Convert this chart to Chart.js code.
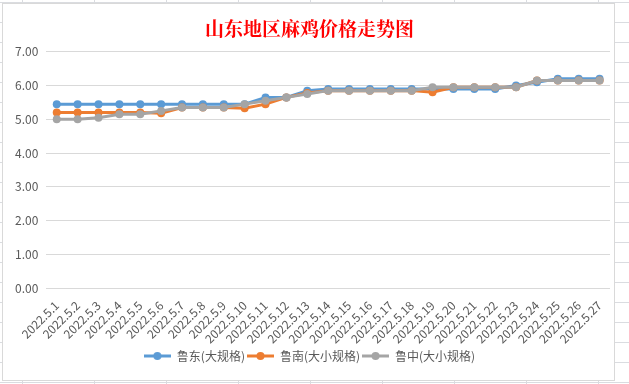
<!DOCTYPE html>
<html>
<head>
<meta charset="utf-8">
<script src="https://cdn.jsdelivr.net/npm/chart.js@4"></script>
<style>
    html, body { margin: 0; padding: 0; }
    body {
        width: 629px; height: 384px; overflow: hidden;
        background-color: #fff;
        background-image:
            linear-gradient(to right, #dadce0 1px, transparent 1px),
            linear-gradient(to bottom, #dadce0 1px, transparent 1px);
        background-size: 72px 20px;
        background-position: 22px 2px;
    }
    .chart-box {
        position: absolute; left: 2px; top: 3px;
        width: 611px; height: 376px;
        background: #fff; border: 1px solid #d9d9d9;
    }
</style>
</head>
<body>
<div class="chart-box"><canvas id="priceChart" width="611" height="376"></canvas></div>
<script>
// 日期
const labels = ['2022.5.1', '2022.5.2', '2022.5.3', '2022.5.4', '2022.5.5', '2022.5.6', '2022.5.7',
    '2022.5.8', '2022.5.9', '2022.5.10', '2022.5.11', '2022.5.12', '2022.5.13', '2022.5.14',
    '2022.5.15', '2022.5.16', '2022.5.17', '2022.5.18', '2022.5.19', '2022.5.20', '2022.5.21',
    '2022.5.22', '2022.5.23', '2022.5.24', '2022.5.25', '2022.5.26', '2022.5.27'];

// 鲁东(大规格)
const ludong = [5.45, 5.45, 5.45, 5.45, 5.45, 5.45, 5.45, 5.45, 5.45, 5.45, 5.65, 5.65, 5.85, 5.90,
    5.90, 5.90, 5.90, 5.90, 5.90, 5.90, 5.90, 5.90, 6.00, 6.10, 6.20, 6.20, 6.20];
// 鲁南(大小规格)
const lunan = [5.20, 5.20, 5.20, 5.20, 5.20, 5.18, 5.35, 5.35, 5.35, 5.33, 5.45, 5.65, 5.78, 5.85,
    5.85, 5.85, 5.85, 5.85, 5.80, 5.95, 5.95, 5.95, 5.95, 6.15, 6.15, 6.15, 6.15];
// 鲁中(大小规格)
const luzhong = [5.00, 5.00, 5.05, 5.15, 5.15, 5.25, 5.35, 5.35, 5.35, 5.45, 5.55, 5.65, 5.75, 5.85,
    5.85, 5.85, 5.85, 5.85, 5.95, 5.95, 5.95, 5.95, 5.95, 6.15, 6.15, 6.15, 6.15];

const yTicks = [0, 1, 2, 3, 4, 5, 6, 7];

const seriesColors = ['#5b9bd5', '#ed7d31', '#a5a5a5'];
const seriesNames = ['鲁东(大规格)', '鲁南(大小规格)', '鲁中(大小规格)'];

// legend marker: short line with a dot
function legendMarker(color) {
    const c = document.createElement('canvas');
    c.width = 27; c.height = 10;
    const ctx = c.getContext('2d');
    ctx.strokeStyle = color;
    ctx.lineWidth = 3;
    ctx.beginPath();
    ctx.moveTo(0, 5);
    ctx.lineTo(27, 5);
    ctx.stroke();
    ctx.fillStyle = color;
    ctx.beginPath();
    ctx.arc(13.5, 5, 4, 0, Math.PI * 2);
    ctx.fill();
    return c;
}

function makeDataset(i, data) {
    return {
        label: seriesNames[i],
        data: data,
        borderColor: seriesColors[i],
        backgroundColor: seriesColors[i],
        borderWidth: 3,
        pointRadius: 4,
        pointHoverRadius: 4,
        pointBorderWidth: 0,
        tension: 0,
        fill: false,
        order: 2 - i   // last series drawn on top, like Excel
    };
}

Chart.defaults.font.family = '"Microsoft YaHei", "Noto Sans CJK SC", sans-serif';
Chart.defaults.color = '#595959';

new Chart(document.getElementById('priceChart'), {
    type: 'line',
    data: {
        labels: labels,
        datasets: [
            makeDataset(0, ludong),
            makeDataset(1, lunan),
            makeDataset(2, luzhong)
        ]
    },
    options: {
        responsive: false,
        animation: false,
        layout: { padding: { left: 4, right: 2, top: 6, bottom: 8 } },
        plugins: {
            title: {
                display: true,
                text: '山东地区麻鸡价格走势图',
                color: '#ff0000',
                font: { size: 19, weight: 'bold', family: '"Noto Serif CJK SC", "Noto Sans CJK SC", serif' },
                padding: { top: 7, bottom: 12 }
            },
            legend: {
                position: 'bottom',
                labels: {
                    usePointStyle: true,
                    pointStyleWidth: 27,
                    color: '#595959',
                    font: { size: 12 },
                    padding: 2,
                    generateLabels: function(chart) {
                        return chart.data.datasets.map(function(ds, i) {
                            return {
                                text: ds.label,
                                pointStyle: legendMarker(seriesColors[i]),
                                fontColor: '#595959',
                                datasetIndex: i,
                                hidden: false,
                                lineWidth: 0
                            };
                        });
                    }
                }
            },
            tooltip: { enabled: false }
        },
        scales: {
            x: {
                offset: true,
                grid: { display: false },
                border: { display: false },
                ticks: {
                    autoSkip: false,
                    minRotation: 45,
                    maxRotation: 45,
                    padding: 2,
                    font: { size: 12 },
                    color: '#595959'
                }
            },
            y: {
                min: 0,
                max: 7,
                afterBuildTicks: function(axis) {
                    axis.ticks = yTicks.map(v => ({ value: v }));
                },
                grid: { color: '#d9d9d9', drawTicks: false },
                border: { display: false },
                ticks: {
                    padding: 8,
                    font: { size: 12 },
                    color: '#595959',
                    callback: v => v.toFixed(2)
                }
            }
        }
    }
});
</script>
</body>
</html>
